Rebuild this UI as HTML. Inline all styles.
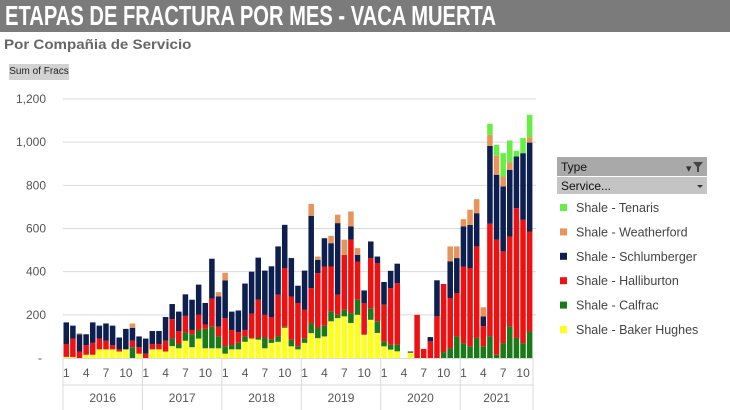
<!DOCTYPE html>
<html><head><meta charset="utf-8"><style>
body{margin:0;width:730px;height:410px;background:#fff;overflow:hidden;font-family:"Liberation Sans",sans-serif;position:relative}
#tb{position:absolute;left:0;top:0;width:730px;height:32px;background:#7b7b7b}
#t{position:absolute;left:5px;top:0;color:#fff;font-weight:bold;font-size:28px;line-height:32px;white-space:nowrap;transform:scaleX(0.72);transform-origin:0 0}
#s{position:absolute;left:4px;top:36px;color:#666;font-weight:bold;font-size:14px;white-space:nowrap;transform:scaleX(1.08);transform-origin:0 0}
#b{position:absolute;left:9px;top:64px;width:60px;height:16px;background:#d2d2d2;font-size:10px;line-height:16px;text-align:center;color:#222;white-space:nowrap}
</style></head><body>
<div id="tb"></div>
<div id="t">ETAPAS DE FRACTURA POR MES -  VACA MUERTA</div>
<div id="s">Por Compañia de Servicio</div>
<div id="b">Sum of Fracs</div>
<svg id="c" width="730" height="410" style="position:absolute;left:0;top:0"></svg>
<script>
var D=[
[5,0,60,100,0,0],[5,0,85,60,0,0],[0,0,30,80,5,0],[15,0,45,50,0,0],[15,0,55,95,0,0],[40,0,50,60,0,0],[40,0,40,80,0,0],[40,0,20,90,0,0],[30,0,10,55,0,0],[40,0,0,95,0,0],[0,50,30,60,20,0],[20,0,30,50,0,0],
[0,0,20,70,0,0],[40,0,25,60,0,0],[40,0,25,60,0,0],[30,0,50,110,0,0],[55,35,90,70,0,0],[45,20,60,90,0,0],[80,40,75,100,0,0],[50,60,20,140,0,0],[90,40,70,140,0,0],[45,90,20,100,0,0],[45,100,130,185,0,0],[45,55,45,140,20,0],
[20,35,130,175,35,0],[40,20,70,85,0,0],[40,30,50,100,0,0],[75,25,30,215,0,0],[90,0,115,195,0,0],[85,10,175,195,0,0],[45,50,105,205,0,0],[70,15,105,235,0,0],[75,25,193,224,0,0],[140,5,272,200,0,0],[54,31,200,178,0,0],[40,15,200,80,0,0],
[70,22,131,182,0,0],[115,47,162,335,55,0],[92,47,254,62,15,0],[100,50,274,131,0,0],[170,46,208,108,34,0],[185,15,93,332,39,0],[193,31,254,0,70,0],[162,46,340,62,69,0],[200,70,177,31,31,0],[108,0,147,58,0,0],[177,54,232,77,0,0],[116,54,270,30,0,0],
[54,23,170,105,0,0],[39,23,262,80,0,0],[31,31,285,90,0,0],[0,0,0,0,0,0],[25,0,0,5,0,0],[0,0,200,0,0,0],[0,0,42,0,0,0],[0,0,77,20,0,0],[0,0,193,167,0,0],[0,26,317,0,0,0],[0,46,232,170,69,0],[0,100,201,162,54,0],
[0,69,355,186,33,0],[0,54,363,200,70,0],[0,93,424,154,65,0],[0,54,93,46,42,0],[0,100,522,361,51,51],[0,15,533,301,88,51],[0,69,425,301,46,108],[0,147,416,309,34,102],[0,93,601,240,0,26],[0,69,571,309,0,70],[0,123,463,412,25,104]];
var C=["#ffff1a","#1a7a1a","#ee1111","#0d1f4f","#e8935a","#66ee44"];
var s="",x0=63,w=470/71,y0=358,k=259/1200;
var labs=["1,200","1,000","800","600","400","200","-"];
for(var i=0;i<7;i++){var v=1200-200*i,y=y0-v*k;
 if(v>0)s+='<line x1="63" x2="536" y1="'+y+'" y2="'+y+'" stroke="#d9d9d9" stroke-width="1"/>';
 s+='<text x="'+(v>0?46:42)+'" y="'+(y+4)+'" text-anchor="end" font-size="12" fill="#555">'+labs[i]+'</text>';}
for(var i=0;i<D.length;i++){var b=y0,x=x0+i*w+0.5;
 for(var j=0;j<6;j++){var h=D[i][j]*k;if(h>0){b-=h;s+='<rect x="'+x.toFixed(2)+'" y="'+b.toFixed(2)+'" width="'+(w-1.1).toFixed(2)+'" height="'+h.toFixed(2)+'" fill="'+C[j]+'"/>';}}}
s+='<line x1="63" x2="533" y1="358.5" y2="358.5" stroke="#d9d9d9"/>';
var yrs=["2016","2017","2018","2019","2020","2021"];
for(var yI=0;yI<=6;yI++){var xs=x0+Math.min(yI*12,71)*w;s+='<line x1="'+xs+'" x2="'+xs+'" y1="358" y2="410" stroke="#d9d9d9"/>';}
s+='<line x1="63" x2="533" y1="385" y2="385" stroke="#d9d9d9"/>';
for(var yI=0;yI<6;yI++){var n=yI==5?11:12,xs=x0+yI*12*w;
 s+='<text x="'+(xs+n*w/2)+'" y="402" text-anchor="middle" font-size="12" fill="#555">'+yrs[yI]+'</text>';
 [1,4,7,10].forEach(function(m){s+='<text x="'+(xs+(m-0.5)*w)+'" y="377" text-anchor="middle" font-size="12" fill="#555">'+m+'</text>';});}
s+='<rect x="557" y="157" width="150" height="19" fill="#a9a9a9"/><text x="561" y="171" font-size="12" fill="#111">Type</text>';
s+='<text x="686" y="172" font-size="11" fill="#333">▾</text><path d="M693 162h10l-4 5v5h-2v-5z" fill="#444"/>';
s+='<rect x="557" y="177" width="150" height="17" fill="#c4c4c4"/><text x="561" y="190" font-size="12" fill="#111">Service...</text><path d="M697 185h6l-3 3z" fill="#333"/>';
var L=[["Shale - Tenaris",5],["Shale - Weatherford",4],["Shale - Schlumberger",3],["Shale - Halliburton",2],["Shale - Calfrac",1],["Shale - Baker Hughes",0]];
for(var i=0;i<6;i++){var y=208+i*24.4;s+='<rect x="560" y="'+(y-4)+'" width="7" height="7" fill="'+C[L[i][1]]+'"/><text x="576" y="'+(y+4)+'" font-size="12.5" fill="#444">'+L[i][0]+'</text>';}
document.getElementById("c").innerHTML=s;
</script>
</body></html>
